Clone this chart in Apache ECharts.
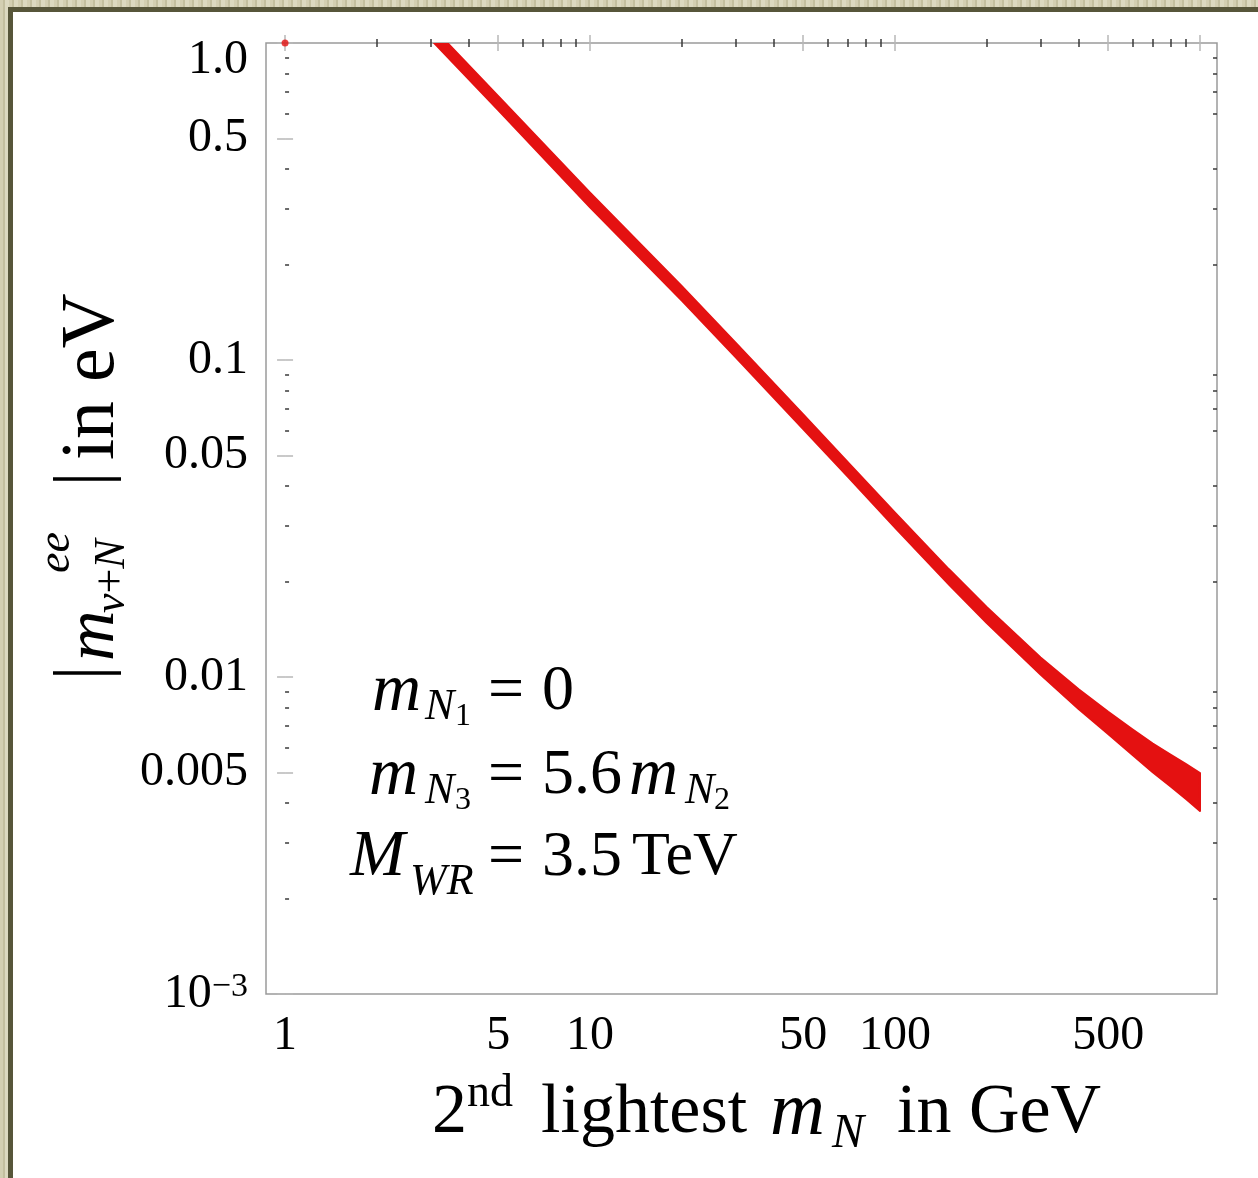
<!DOCTYPE html>
<html><head><meta charset="utf-8">
<script src="https://cdn.jsdelivr.net/npm/echarts@6/dist/echarts.min.js"></script>
<style>
html,body{margin:0;padding:0;width:1258px;height:1178px;overflow:hidden;
 background:repeating-linear-gradient(90deg,#d3cfb2 0px,#d3cfb2 3px,#c3bf9f 3px,#c3bf9f 5px,#dcd9c0 5px,#dcd9c0 9px);}
#panel{position:absolute;left:8px;top:7px;right:0;bottom:0;background:#fff;border-left:5px solid #57563a;border-top:5px solid #57563a;}
#chart{position:absolute;left:0;top:0;width:1258px;height:1178px;}
</style></head><body><div id="panel"></div><div id="chart"></div>
<script>
// ---------- data ----------
const bandX     = [3, 5, 10, 20, 30, 50, 70, 100, 150, 200, 300, 400, 500, 600, 700, 800, 900, 1000];
const bandUpper = [1.138, 0.679, 0.337, 0.171, 0.1135, 0.0673, 0.0476, 0.0330, 0.0219, 0.0166, 0.01153, 0.00914, 0.00776, 0.00684, 0.00617, 0.00569, 0.00531, 0.00498];
const bandLower = [1.028, 0.614, 0.303, 0.154, 0.1021, 0.0605, 0.0429, 0.0296, 0.0196, 0.0148, 0.01019, 0.00793, 0.00661, 0.00569, 0.00501, 0.00452, 0.00412, 0.00378];
const strayPoints = [[1, 1.0]];

const xRange = [0.866, 1137];
const yRange = [0.001, 1];
const xMajorTicks  = [1, 5, 10, 50, 100, 500, 1000];
const xMajorLabels = ['1', '5', '10', '50', '100', '500', ''];
const yMajorTicks  = [0.001, 0.005, 0.01, 0.05, 0.1, 0.5, 1];
const yMajorLabels = ['{b|10}{s|\u22123}', '0.005', '0.01', '0.05', '0.1', '0.5', '{t|1.0}'];
const minorMantissas = [2, 3, 4, 6, 7, 8, 9];
const xMinorDecades = [1, 10, 100];
const yMinorDecades = [0.001, 0.01, 0.1];

// ---------- helpers ----------
const SERIF = 'Liberation Serif';
const RED = '#e41111';
const L = v => Math.log10(v);
const xMinor = [], yMinor = [];
xMinorDecades.forEach(d => minorMantissas.forEach(m => xMinor.push(m * d)));
yMinorDecades.forEach(d => minorMantissas.forEach(m => yMinor.push(m * d)));

function labelFor(ticks, labels, v) {
  for (let i = 0; i < ticks.length; i++) if (Math.abs(L(ticks[i]) - v) < 1e-6) return labels[i];
  return '';
}
function tickAxis(dir, position, ticks, major, labels) {
  const ax = {
    type: 'value', position: position,
    min: L(dir === 'x' ? xRange[0] : yRange[0]),
    max: L(dir === 'x' ? xRange[1] : yRange[1]),
    axisLine: {show: false},
    splitLine: {show: false},
    axisTick: {
      show: true, inside: true, length: major ? 8 : 4,
      customValues: ticks.map(L),
      lineStyle: {color: major ? '#b8b8b8' : '#3a3a3a', width: 1.5}
    },
    axisLabel: {show: false}
  };
  if (labels) {
    ax.axisLabel = {
      show: true, customValues: ticks.map(L),
      showMinLabel: true, showMaxLabel: true,
      formatter: v => labelFor(ticks, labels, v),
      fontFamily: SERIF, fontSize: 48, color: '#000',
      margin: 18,
      rich: {
        b: {fontFamily: SERIF, fontSize: 48, color: '#000'},
        s: {fontFamily: SERIF, fontSize: 34, color: '#000', verticalAlign: 'top', lineHeight: 20},
        t: {fontFamily: SERIF, fontSize: 48, color: '#000', padding: [34, 0, 0, 0]}
      }
    };
  }
  return ax;
}
function T(x, y, text, fs, italic, extra) {
  return {type: 'text', x: x, y: y, silent: true,
    style: Object.assign({text: text, fontFamily: SERIF, fontSize: fs,
      fontStyle: italic ? 'italic' : 'normal', fill: '#000', align: 'left', verticalAlign: 'middle'}, extra || {})};
}

const chart = echarts.init(document.getElementById('chart'), null, {renderer: 'canvas'});
const option = {
  animation: false,
  backgroundColor: 'transparent',
  grid: {left: 266, top: 43, width: 951, height: 951, show: true, borderColor: '#9a9a9a', borderWidth: 1.5, backgroundColor: 'transparent'},
  xAxis: [
    {type: 'log', logBase: 10, min: xRange[0], max: xRange[1], show: false},
    tickAxis('x', 'bottom', xMajorTicks, true, xMajorLabels),
    tickAxis('x', 'bottom', xMinor, false),
    tickAxis('x', 'top', xMajorTicks, true),
    tickAxis('x', 'top', xMinor, false)
  ],
  yAxis: [
    {type: 'log', logBase: 10, min: yRange[0], max: yRange[1], show: false},
    tickAxis('y', 'left', yMajorTicks, true, yMajorLabels),
    tickAxis('y', 'left', yMinor, false),
    tickAxis('y', 'right', yMajorTicks, true),
    tickAxis('y', 'right', yMinor, false)
  ],
  series: [
    {
      type: 'custom', xAxisIndex: 0, yAxisIndex: 0, clip: true, silent: true,
      data: bandX.map((x, i) => [x, bandLower[i], bandUpper[i]]),
      encode: {x: 0, y: [1, 2]},
      renderItem: function (params, api) {
        if (params.dataIndex !== 0) return null;
        const pts = [];
        for (let i = 0; i < bandX.length; i++) pts.push(api.coord([bandX[i], bandUpper[i]]));
        for (let i = bandX.length - 1; i >= 0; i--) pts.push(api.coord([bandX[i], bandLower[i]]));
        return {type: 'polygon', shape: {points: pts},
          style: {fill: RED, stroke: RED, lineWidth: 2, lineJoin: 'round'}};
      }
    },
    {
      type: 'scatter', xAxisIndex: 0, yAxisIndex: 0, clip: true, silent: true,
      data: strayPoints, symbolSize: 7, itemStyle: {color: RED}
    }
  ],
  graphic: [
    // x-axis title
    T(432, 1114, '2', 70, false),
    T(467, 1094, 'nd', 46, false),
    T(541, 1114, 'lightest', 70, false),
    T(770, 1114, 'm', 76, true),
    T(832, 1134, 'N', 48, true),
    T(897, 1114, 'in GeV', 70, false),
    // y-axis title (rotated)
    {type: 'group', x: 119, y: 673, rotation: Math.PI / 2, children: [
      {type: 'line', silent: true, shape: {x1: 0, y1: -66, x2: 0, y2: 2}, style: {stroke: '#000', lineWidth: 3.5}},
      T(12, -24, 'm', 70, true),
      T(100, -62, 'ee', 46, true),
      T(60, -7, '{i|\u03BD}{r|+}{i|N}', 44, false, {rich: {
        i: {fontFamily: SERIF, fontSize: 44, fontStyle: 'italic', fill: '#000'},
        r: {fontFamily: SERIF, fontSize: 44, fill: '#000'}}}),
      {type: 'line', silent: true, shape: {x1: 194, y1: -66, x2: 194, y2: 2}, style: {stroke: '#000', lineWidth: 3.5}},
      T(213, -26, 'in eV', 76, false)
    ]},
    // annotation line 1
    T(372, 692, 'm', 68, true),
    T(425, 707, 'N', 44, true),
    T(455, 717, '1', 32, false),
    T(488, 692, '=', 64, false),
    T(542, 692, '0', 64, false),
    // line 2
    T(369, 776, 'm', 68, true),
    T(425, 791, 'N', 44, true),
    T(455, 801, '3', 32, false),
    T(488, 776, '=', 64, false),
    T(542, 776, '5.6', 64, false),
    T(629, 776, 'm', 68, true),
    T(685, 791, 'N', 44, true),
    T(714, 801, '2', 32, false),
    // line 3
    T(350, 858, 'M', 66, true),
    T(410, 882, 'WR', 44, true),
    T(488, 858, '=', 64, false),
    T(542, 858, '3.5', 64, false),
    T(632, 858, 'TeV', 62, false)
  ]
};
chart.setOption(option);
</script></body></html>
